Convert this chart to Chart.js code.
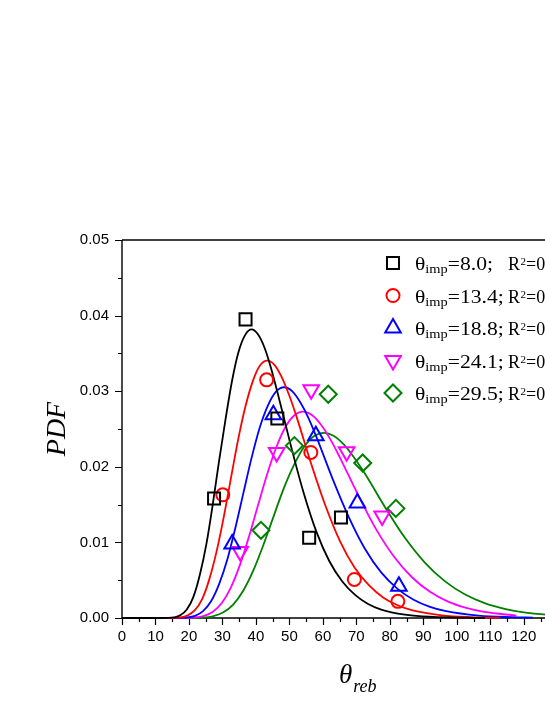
<!DOCTYPE html>
<html>
<head>
<meta charset="utf-8">
<script src="https://cdn.jsdelivr.net/npm/chart.js@4.4.1/dist/chart.umd.min.js"></script>
<style>
  html, body { margin: 0; padding: 0; background: #fff; overflow: hidden; }
  canvas { display: block; }
</style>
</head>
<body>
<canvas id="pdfChart" width="600" height="705"></canvas>
<script>
// legend text
const thetaImp = ['8.0', '13.4', '18.8', '24.1', '29.5'];
const r2Text = ['0.85', '0.93', '0.95', '0.94', '0.91'];
const colors = ['#000000', '#ff0000', '#0000ff', '#ff00ff', '#008000'];

// measured points
const blackPtX = [27.5, 36.9, 46.4, 55.9, 65.4];
const blackPtY = [0.0158, 0.0395, 0.0264, 0.0106, 0.0133];
const redPtX = [30.1, 43.2, 56.4, 69.4, 82.4];
const redPtY = [0.0163, 0.0315, 0.0219, 0.0051, 0.0022];
const bluePtX = [32.9, 45.2, 57.9, 70.3, 82.7];
const bluePtY = [0.0098, 0.0269, 0.0241, 0.0152, 0.0042];
const magentaPtX = [35.3, 46.2, 56.5, 67.1, 77.7];
const magentaPtY = [0.0088, 0.0219, 0.0302, 0.0220, 0.0135];
const greenPtX = [41.5, 51.5, 61.6, 71.9, 81.8];
const greenPtY = [0.0116, 0.0228, 0.0296, 0.0205, 0.0145];

// fitted curves
const blackLineX = [0, 11.6, 13.5, 15.5, 17.4, 19.35, 21.3, 23.2, 25.2, 27.1, 29.0, 31.0, 32.9, 34.8, 36.8, 38.7, 40.6, 42.6, 44.5, 46.4, 50.3, 54.2, 58.05, 61.9, 65.8, 69.7, 73.5, 77.4, 85.1, 92.9, 100.6, 108.4];
const blackLineY = [0, 0, 0.00001, 0.00008, 0.00035, 0.00112, 0.00277, 0.00562, 0.00977, 0.01501, 0.02079, 0.02650, 0.03145, 0.03519, 0.03745, 0.03818, 0.03752, 0.03572, 0.03308, 0.02991, 0.02303, 0.01663, 0.01142, 0.00754, 0.00483, 0.00302, 0.00185, 0.00112, 0.00040, 0.00014, 0.00005, 0.00002];
const redLineX = [0, 13.0, 15.2, 17.4, 19.5, 21.7, 23.9, 26.0, 28.2, 30.4, 32.55, 34.7, 36.9, 39.1, 41.2, 43.4, 45.6, 47.7, 49.9, 52.1, 56.4, 60.8, 65.1, 69.4, 73.8, 78.1, 82.5, 86.8, 95.5, 104.2, 112.8];
const redLineY = [0, 0, 0.00001, 0.00007, 0.00032, 0.00100, 0.00247, 0.00501, 0.00871, 0.01338, 0.01854, 0.02363, 0.02804, 0.03137, 0.03339, 0.03404, 0.03345, 0.03185, 0.02949, 0.02667, 0.02054, 0.01482, 0.01018, 0.00672, 0.00431, 0.00269, 0.00165, 0.00100, 0.00036, 0.00012, 0.00004];
const blueLineX = [0, 14.5, 16.9, 19.4, 21.8, 24.2, 26.6, 29.0, 31.5, 33.9, 36.3, 38.7, 41.1, 43.6, 46.0, 48.4, 50.8, 53.2, 55.7, 58.1, 62.9, 67.8, 72.6, 77.4, 82.3, 87.1, 92.0, 96.8, 106.5, 116.2, 122.7];
const blueLineY = [0, 0, 0.00001, 0.00006, 0.00028, 0.00090, 0.00221, 0.00449, 0.00781, 0.01200, 0.01662, 0.02118, 0.02514, 0.02813, 0.02994, 0.03052, 0.03000, 0.02856, 0.02645, 0.02392, 0.01841, 0.01329, 0.00913, 0.00603, 0.00386, 0.00242, 0.00148, 0.00090, 0.00032, 0.00011, 0.00005];
const magentaLineX = [0, 16.2, 18.9, 21.6, 24.3, 27.05, 29.8, 32.5, 35.2, 37.9, 40.6, 43.3, 46.0, 48.7, 51.4, 54.1, 56.8, 59.5, 62.2, 64.9, 70.3, 75.7, 81.15, 86.6, 92.0, 97.4, 102.8, 108.2, 117.8];
const magentaLineY = [0, 0, 0.00001, 0.00006, 0.00025, 0.00080, 0.00198, 0.00402, 0.00699, 0.01073, 0.01487, 0.01895, 0.02249, 0.02517, 0.02678, 0.02730, 0.02683, 0.02554, 0.02366, 0.02139, 0.01647, 0.01189, 0.00817, 0.00539, 0.00346, 0.00216, 0.00133, 0.00080, 0.00032];
const greenLineX = [0, 18.1, 21.1, 24.1, 27.1, 30.15, 33.2, 36.2, 39.2, 42.2, 45.2, 48.2, 51.3, 54.3, 57.3, 60.3, 63.3, 66.3, 69.3, 72.4, 78.4, 84.4, 90.45, 96.5, 102.5, 108.5, 114.6, 120.6, 132.7, 144.7];
const greenLineY = [0, 0, 0.00001, 0.00005, 0.00023, 0.00072, 0.00178, 0.00361, 0.00627, 0.00963, 0.01334, 0.01701, 0.02018, 0.02258, 0.02403, 0.02450, 0.02408, 0.02292, 0.02123, 0.01920, 0.01478, 0.01067, 0.00733, 0.00484, 0.00310, 0.00194, 0.00119, 0.00072, 0.00026, 0.00009];

const xTicks = [0, 10, 20, 30, 40, 50, 60, 70, 80, 90, 100, 110, 120, 130];
const yTicks = [0, 0.01, 0.02, 0.03, 0.04, 0.05];

const pts = [[blackPtX, blackPtY], [redPtX, redPtY], [bluePtX, bluePtY], [magentaPtX, magentaPtY], [greenPtX, greenPtY]];
const lines = [[blackLineX, blackLineY], [redLineX, redLineY], [blueLineX, blueLineY], [magentaLineX, magentaLineY], [greenLineX, greenLineY]];
const markers = [
    { pointStyle: 'rect', radius: 8.5, rotation: 0 },
    { pointStyle: 'circle', radius: 6.5, rotation: 0 },
    { pointStyle: 'triangle', radius: 9, rotation: 0 },
    { pointStyle: 'triangle', radius: 9, rotation: 180 },
    { pointStyle: 'rectRot', radius: 8.5, rotation: 0 }
];

function zip(xs, ys) {
    return xs.map((x, i) => ({ x: x, y: ys[i] }));
}

var datasets = [];
for (var i = 0; i < 5; i++) {
    datasets.push({
        data: zip(pts[i][0], pts[i][1]),
        showLine: false,
        pointStyle: markers[i].pointStyle,
        pointRadius: markers[i].radius,
        rotation: markers[i].rotation,
        pointBorderColor: colors[i],
        pointBackgroundColor: 'rgba(0,0,0,0)',
        pointBorderWidth: 2,
        clip: 12,
        order: 0
    });
    datasets.push({
        data: zip(lines[i][0], lines[i][1]),
        showLine: true,
        borderColor: colors[i],
        borderWidth: 1.8,
        pointRadius: 0,
        cubicInterpolationMode: 'monotone',
        clip: 3,
        order: 1
    });
}

// draws a piece of text stretched by sx, returns its width
function stretchText(ctx, s, x, y, font, sx) {
    ctx.font = font;
    ctx.save();
    ctx.translate(x, y);
    ctx.scale(sx, 1);
    ctx.fillText(s, 0, 0);
    ctx.restore();
    return ctx.measureText(s).width * sx;
}

// frame, minor ticks, x title, legend
const decor = {
    id: 'decor',
    beforeDatasetsDraw(chart) {
        const { ctx, chartArea: a, scales: { x, y } } = chart;
        ctx.save();
        ctx.strokeStyle = '#000';
        ctx.lineWidth = 1.4;
        ctx.beginPath();
        ctx.moveTo(a.left, a.bottom); ctx.lineTo(a.right, a.bottom);
        ctx.moveTo(a.left, a.bottom); ctx.lineTo(a.left, a.top);
        ctx.moveTo(a.left, a.top); ctx.lineTo(a.right, a.top);
        ctx.stroke();
        ctx.lineWidth = 1.2;
        ctx.beginPath();
        for (var v = 0; v <= 135; v += 5) {
            var px = Math.round(x.getPixelForValue(v)) + 0.5;
            ctx.moveTo(px, a.bottom);
            ctx.lineTo(px, a.bottom + (v % 10 === 0 ? 7 : 4));
        }
        for (var k = 0; k <= 10; k++) {
            var py = Math.round(y.getPixelForValue(k * 0.005)) + 0.5;
            ctx.moveTo(a.left, py);
            ctx.lineTo(a.left - (k % 2 === 0 ? 7 : 4), py);
        }
        ctx.stroke();
        ctx.restore();
    },
    afterDraw(chart) {
        const { ctx } = chart;
        ctx.save();
        ctx.fillStyle = '#000';
        ctx.textBaseline = 'alphabetic';
        // x title
        ctx.font = 'italic 27px "Liberation Serif"';
        ctx.fillText('θ', 339, 683);
        var w = ctx.measureText('θ').width;
        ctx.font = 'italic 18px "Liberation Serif"';
        ctx.fillText('reb', 339 + w + 1, 692);

        // legend
        var big = '18px "Liberation Serif"';
        for (var i = 0; i < 5; i++) {
            var cy = 263 + i * 32.5;
            var m = markers[i];
            ctx.strokeStyle = colors[i];
            ctx.fillStyle = 'rgba(0,0,0,0)';
            ctx.lineWidth = 2;
            Chart.helpers.drawPoint(ctx, {
                pointStyle: m.pointStyle, radius: m.radius, rotation: m.rotation, borderWidth: 2
            }, 393, cy);
            ctx.fillStyle = '#000';
            var tx = 415, base = cy + 7;
            tx += stretchText(ctx, 'θ', tx, base, big, 1.2);
            tx += stretchText(ctx, 'imp', tx, base + 3, '12px "Liberation Serif"', 1.2);
            stretchText(ctx, '=' + thetaImp[i] + ';', tx, base, big, 1.2);
            tx = 508;
            tx += stretchText(ctx, 'R', tx, base, big, 1);
            tx += stretchText(ctx, '2', tx + 0.5, base - 5, '11px "Liberation Serif"', 1) + 0.5;
            stretchText(ctx, '=' + r2Text[i], tx, base, big, 1);
        }
        ctx.restore();
    }
};

var tickFont = { family: '"Liberation Sans", Arial, sans-serif', size: 15 };

var ctx = document.getElementById('pdfChart').getContext('2d');
var pdfChart = new Chart(ctx, {
    type: 'scatter',
    data: { datasets: datasets },
    options: {
        responsive: false,
        animation: false,
        devicePixelRatio: 1,
        layout: { padding: { left: 0, top: 240, right: 26, bottom: 0 } },
        plugins: { legend: { display: false }, tooltip: { enabled: false } },
        scales: {
            x: {
                type: 'linear',
                min: 0,
                max: 135,
                afterFit: function (s) { s.height = 87; },
                afterBuildTicks: function (s) { s.ticks = xTicks.map(v => ({ value: v })); },
                grid: { display: false, drawTicks: false },
                border: { display: false },
                ticks: { font: tickFont, color: '#000', padding: 10, autoSkip: false, maxRotation: 0 }
            },
            y: {
                type: 'linear',
                min: 0,
                max: 0.05,
                afterFit: function (s) { s.width = 122; },
                afterBuildTicks: function (s) { s.ticks = yTicks.map(v => ({ value: v })); },
                grid: { display: false, drawTicks: false },
                border: { display: false },
                ticks: {
                    font: tickFont, color: '#000', padding: 13,
                    callback: function (v) { return v.toFixed(2); }
                },
                title: {
                    display: true,
                    text: 'PDF',
                    color: '#000',
                    font: { family: '"Liberation Serif", serif', size: 28, style: 'italic' },
                    padding: { top: 41, bottom: 0 }
                }
            }
        }
    },
    plugins: [decor]
});
</script>
</body>
</html>
